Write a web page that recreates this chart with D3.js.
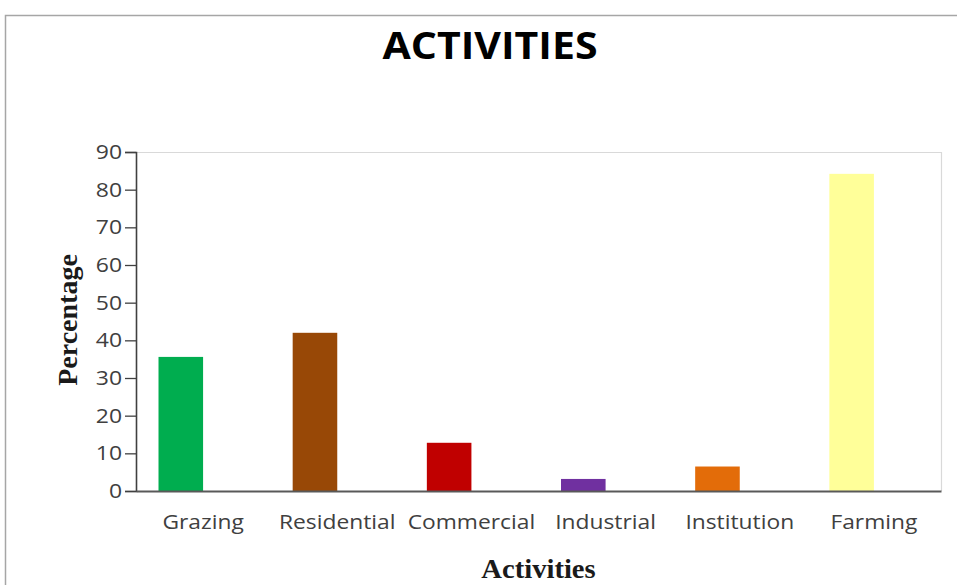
<!DOCTYPE html>
<html>
<head>
<meta charset="utf-8">
<script src="https://cdn.jsdelivr.net/npm/d3@7"></script>
<style>
  html, body { margin: 0; padding: 0; background: #fff; }
  svg { display: block; }
</style>
</head>
<body>
<svg id="chart" width="957" height="585"></svg>
<script>
// Share of land use by activity (%)
const categories = ["Grazing", "Residential", "Commercial", "Industrial", "Institution", "Farming"];
const values = [35.6, 42.0, 12.8, 3.2, 6.5, 84.2];
const colors = ["#00ad4f", "#984806", "#c00000", "#7030a0", "#e36c09", "#ffff99"];
const yTicks = [0, 10, 20, 30, 40, 50, 60, 70, 80, 90];

const svg = d3.select("#chart");
const W = 957, H = 585;
const m = { left: 136, right: 941, top: 152, bottom: 491 };
const SX = 1.12; // horizontal widening applied to the sans-serif labels
const sans = "'Open Sans', sans-serif";
const serif = "'Liberation Serif', 'Times New Roman', serif";

// outer frame
svg.append("path")
  .attr("d", `M5.5,${H} V15.5 H${W}`)
  .attr("fill", "none").attr("stroke", "#a6a6a6").attr("stroke-width", 1.5);

// title
svg.append("text")
  .attr("transform", `translate(490,59) scale(1.11,1)`)
  .attr("text-anchor", "middle")
  .attr("font-family", sans)
  .attr("font-weight", "bold").attr("font-size", 37)
  .attr("fill", "#000")
  .text("ACTIVITIES");

// category bands; each bar sits in the left half of its band
const x = d3.scaleBand().domain(categories).range([m.left, m.right]).padding(0);
const xSlot = d3.scaleBand().domain(["value", "spare"]).range([0, x.bandwidth()])
  .paddingInner(0).paddingOuter(0.505);
const y = d3.scaleLinear().domain([0, 90]).range([m.bottom, m.top]);

// plot frame (top and right)
svg.append("path")
  .attr("d", `M${m.left},${m.top + 0.5} H${m.right + 0.5} V${m.bottom}`)
  .attr("fill", "none").attr("stroke", "#d9d9d9").attr("stroke-width", 1.2);

// bars
svg.append("g").selectAll("rect").data(categories).join("rect")
  .attr("x", d => x(d) + xSlot("value"))
  .attr("width", xSlot.bandwidth())
  .attr("y", (d, i) => y(values[i]))
  .attr("height", (d, i) => y(0) - y(values[i]))
  .attr("fill", (d, i) => colors[i]);

// y axis
const yAxis = svg.append("g")
  .attr("transform", `translate(${m.left},0)`)
  .call(d3.axisLeft(y).tickValues(yTicks).tickSize(11).tickPadding(3).tickFormat(d3.format("d")));
yAxis.select(".domain").attr("stroke", "#404040").attr("stroke-width", 1.6);
yAxis.selectAll(".tick line").attr("stroke", "#404040").attr("stroke-width", 1.3);
yAxis.selectAll(".tick text")
  .attr("font-family", sans).attr("font-size", 20.5).attr("fill", "#404040")
  .attr("x", null)
  .attr("transform", `translate(-14,0) scale(${SX},1)`);

// x axis
const xAxis = svg.append("g")
  .attr("transform", `translate(0,${m.bottom})`)
  .call(d3.axisBottom(x).tickSize(0).tickPadding(24));
xAxis.select(".domain").attr("stroke", "#595959").attr("stroke-width", 2.2);
xAxis.selectAll(".tick text")
  .attr("font-family", sans).attr("font-size", 20).attr("fill", "#404040")
  .attr("transform", `scale(${SX + 0.02},1)`);

// axis titles
svg.append("text")
  .attr("transform", `translate(${(m.left + m.right) / 2},578) scale(1.06,1)`)
  .attr("text-anchor", "middle")
  .attr("font-family", serif).attr("font-weight", "bold").attr("font-size", 27)
  .attr("fill", "#1a1a1a")
  .text("Activities");

svg.append("text")
  .attr("transform", `translate(77,320) rotate(-90)`)
  .attr("text-anchor", "middle")
  .attr("font-family", serif).attr("font-weight", "bold").attr("font-size", 28)
  .attr("fill", "#1a1a1a")
  .text("Percentage");
</script>
</body>
</html>
